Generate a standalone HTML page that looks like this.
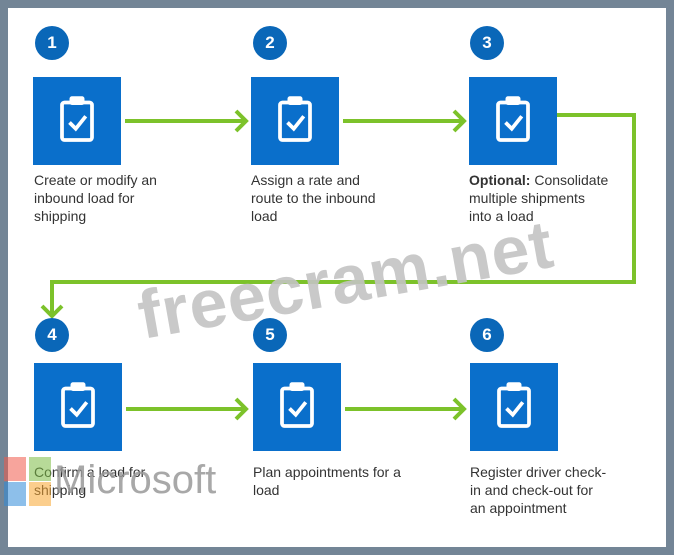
<!DOCTYPE html>
<html><head><meta charset="utf-8"><style>
html,body{margin:0;padding:0}
body{width:674px;height:555px;background:#738596;position:relative;overflow:hidden;font-family:"Liberation Sans","DejaVu Sans",sans-serif}
.inner{position:absolute;left:8px;top:8px;width:658px;height:539px;background:#fff}
.c{position:absolute;width:34px;height:34px;border-radius:50%;background:#0a67b8;color:#fff;font-weight:bold;font-size:17px;text-align:center;line-height:34px}
.b{position:absolute;width:88px;height:88px;background:#0a6fcb}
.t{position:absolute;font-size:14px;line-height:18px;color:#333;white-space:nowrap}
.wm{position:absolute;left:132px;top:278px;font-size:68px;font-weight:bold;color:#c4c4c4;transform:rotate(-10deg);transform-origin:left top;opacity:.9;letter-spacing:1px}
</style></head><body>
<div class="inner"></div>
<svg width="674" height="555" style="position:absolute;left:0;top:0">
<defs><g id="clip" transform="scale(1.25)">
<rect x="-12" y="-14" width="24" height="30" rx="2" fill="none" stroke="#fff" stroke-width="3"/>
<rect x="-6" y="-19" width="12" height="7" rx="2" fill="#fff"/>
<path d="M-6 2 L-1 7 L7 -3" fill="none" stroke="#fff" stroke-width="3"/>
</g></defs>
<g stroke="#7cc22a" stroke-width="4" fill="none">
<path d="M125 121 H245"/><path d="M236 111 L246 121 L236 131"/>
<path d="M343 121 H463"/><path d="M454 111 L464 121 L454 131"/>
<path d="M557 115 H634 V282 H52 V316"/><path d="M42 306 L52 316 L62 306"/>
<path d="M126 409 H245"/><path d="M236 399 L246 409 L236 419"/>
<path d="M345 409 H463"/><path d="M454 399 L464 409 L454 419"/>
</g>
</svg>
<div class="c" style="left:35px;top:26px">1</div>
<div class="c" style="left:253px;top:26px">2</div>
<div class="c" style="left:470px;top:26px">3</div>
<div class="c" style="left:35px;top:318px">4</div>
<div class="c" style="left:253px;top:318px">5</div>
<div class="c" style="left:470px;top:318px">6</div>
<div class="b" style="left:33px;top:77px"></div>
<div class="b" style="left:251px;top:77px"></div>
<div class="b" style="left:469px;top:77px"></div>
<div class="b" style="left:34px;top:363px"></div>
<div class="b" style="left:253px;top:363px"></div>
<div class="b" style="left:470px;top:363px"></div>
<div class="wm">freecram.net</div>
<svg width="674" height="555" style="position:absolute;left:0;top:0">
<use href="#clip" x="77" y="120"/><use href="#clip" x="295" y="120"/><use href="#clip" x="513" y="120"/>
<use href="#clip" x="78" y="406"/><use href="#clip" x="297" y="406"/><use href="#clip" x="514" y="406"/>
</svg>
<div class="t" style="left:34px;top:171px">Create or modify an<br>inbound load for<br>shipping</div>
<div class="t" style="left:251px;top:171px">Assign a rate and<br>route to the inbound<br>load</div>
<div class="t" style="left:469px;top:171px"><b>Optional:</b> Consolidate<br>multiple shipments<br>into a load</div>
<div class="t" style="left:34px;top:463px">Confirm a load for<br>shipping</div>
<div class="t" style="left:253px;top:463px">Plan appointments for a<br>load</div>
<div class="t" style="left:470px;top:463px">Register driver check-<br>in and check-out for<br>an appointment</div>
<div style="position:absolute;left:4px;top:457px;width:22px;height:24px;background:#f05a4a;opacity:.55"></div>
<div style="position:absolute;left:29px;top:457px;width:22px;height:24px;background:#7cbb43;opacity:.55"></div>
<div style="position:absolute;left:4px;top:482px;width:22px;height:24px;background:#2f8ad8;opacity:.55"></div>
<div style="position:absolute;left:29px;top:482px;width:22px;height:24px;background:#f8a530;opacity:.55"></div>
<div style="position:absolute;left:54px;top:458px;font-size:40px;color:#999;opacity:.85;line-height:44px">Microsoft</div>
</body></html>
